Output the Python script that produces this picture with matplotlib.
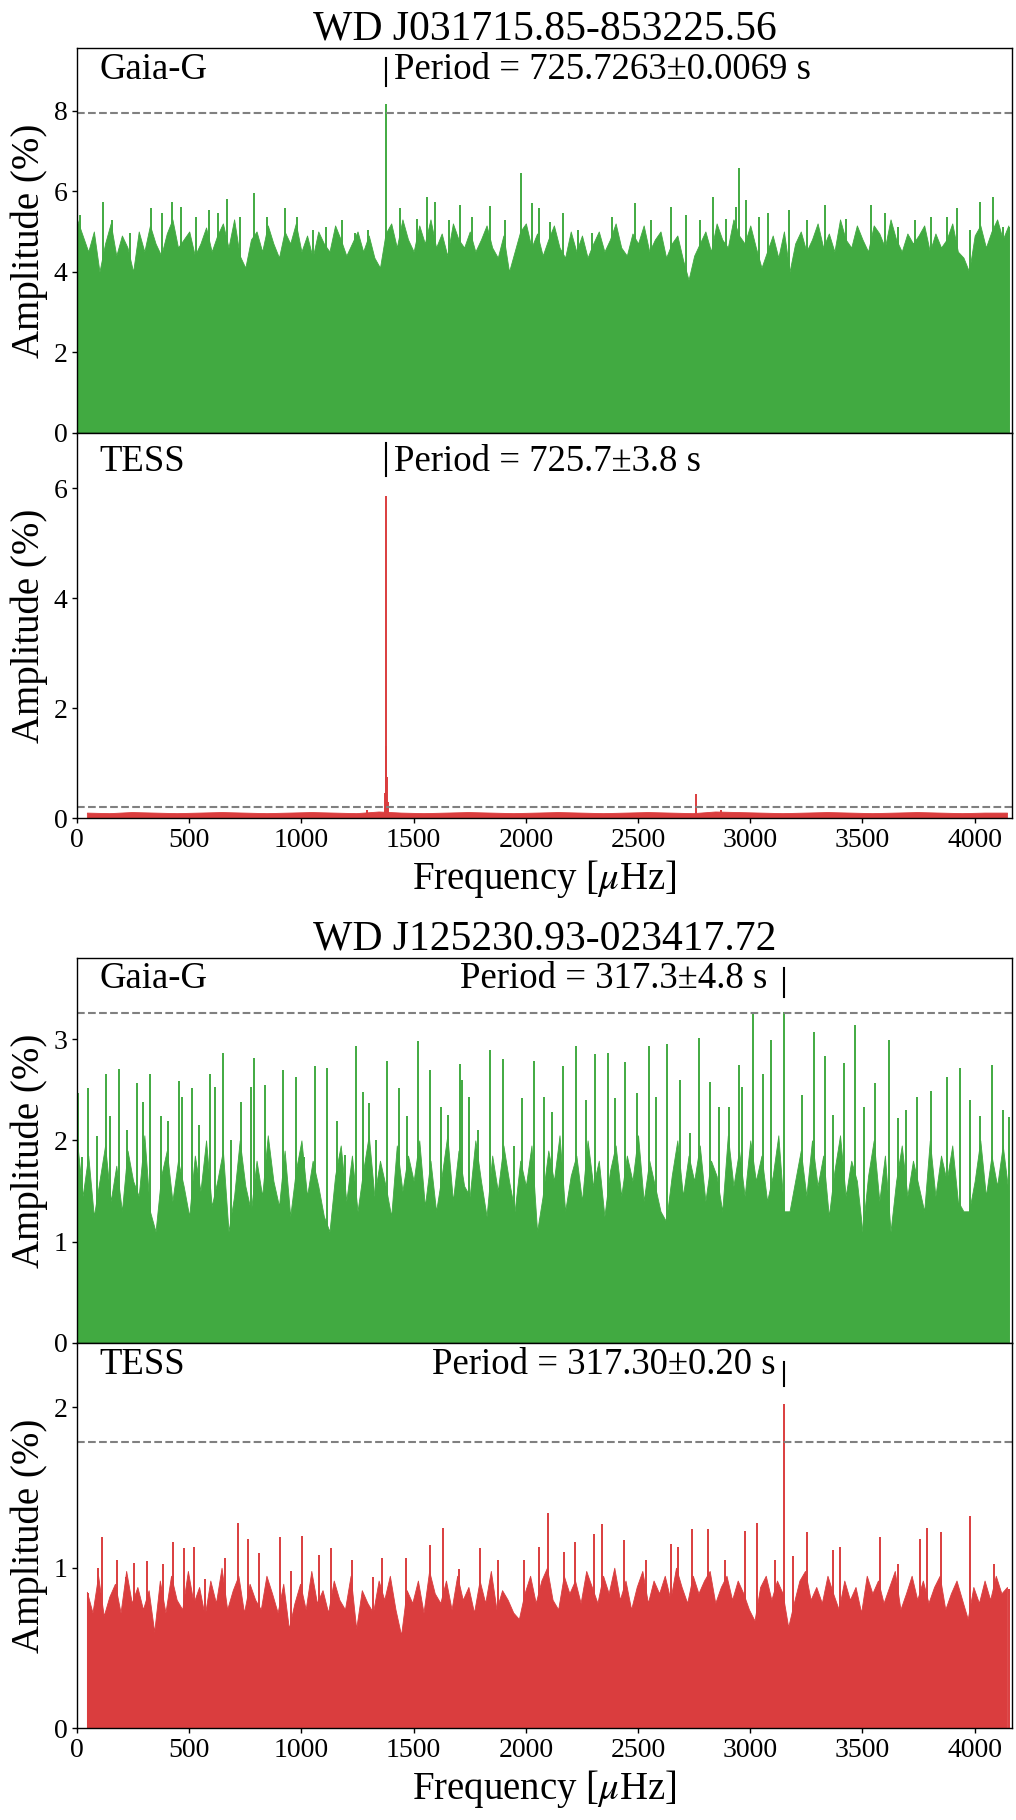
import matplotlib
matplotlib.use("Agg")
import matplotlib.pyplot as plt
import numpy as np

plt.rcParams["font.family"] = ["Liberation Serif", "DejaVu Serif"]
plt.rcParams["mathtext.fontset"] = "stix"

GREEN = "#41aa41"
RED = "#da3d3e"

# ---- WD J031715.85-853225.56 ----
star1_name = "WD J031715.85-853225.56"

# Gaia-G: ragged top of the dense noise, every 25 uHz from 0
gaia1_edge_start, gaia1_edge_step = 0, 25
gaia1_edge = [5.3, 4.9, 4.5, 5.0, 4.0, 4.7, 5.2, 4.4, 4.9, 4.6,
              4.0, 5.0, 4.5, 5.15, 4.7, 4.4, 4.95, 5.3, 4.6, 4.8,
              5.0, 4.4, 4.7, 5.1, 4.5, 4.9, 5.2, 4.6, 5.3, 4.4,
              4.1, 4.8, 5.0, 4.5, 5.15, 4.7, 4.35, 5.0, 4.7, 5.2,
              4.5, 4.9, 4.35, 5.0, 4.7, 4.5, 5.15, 4.8, 4.4, 4.7,
              5.0, 4.5, 4.9, 4.35, 4.1, 4.95, 5.2, 4.6, 5.3, 4.8,
              4.5, 5.15, 4.7, 5.3, 4.6, 4.95, 4.4, 5.2, 4.8, 4.6,
              5.0, 4.5, 4.8, 5.15, 4.6, 4.35, 4.9, 4.0, 4.5, 5.0,
              5.2, 4.6, 4.95, 4.4, 4.8, 5.15, 4.6, 4.35, 5.0, 4.5,
              4.9, 4.35, 4.7, 5.0, 4.5, 4.8, 5.2, 4.6, 4.4, 4.95,
              4.7, 5.15, 4.5, 4.8, 5.0, 4.35, 4.7, 4.9, 4.3, 3.8,
              4.4, 4.7, 5.0, 4.5, 5.2, 4.8, 4.6, 5.3, 4.9, 4.7,
              5.15, 4.6, 4.1, 4.5, 4.9, 4.35, 5.0, 4.0, 4.7, 5.0,
              4.5, 4.8, 5.2, 4.6, 4.95, 4.5, 5.3, 4.8, 4.6, 5.15,
              4.8, 4.5, 5.15, 4.95, 4.6, 5.3, 4.8, 4.5, 4.95, 4.7,
              4.9, 5.15, 4.5, 4.95, 4.6, 4.8, 5.2, 4.5, 4.35, 4.0,
              4.9, 5.15, 4.6, 5.0, 5.3, 4.8, 5.15]
gaia1_spike_freq = [12, 116, 157, 238, 331, 377, 423, 464, 528, 586,
                    629, 667, 725, 789, 847, 928, 980, 1050, 1108, 1180,
                    1238, 1296, 1378, 1441, 1514, 1560, 1595, 1659, 1708, 1758,
                    1839, 1905, 1978, 2027, 2059, 2108, 2166, 2233, 2297, 2384,
                    2486, 2558, 2645, 2712, 2776, 2834, 2892, 2935, 2952, 2979,
                    3037, 3080, 3173, 3254, 3335, 3428, 3538, 3602, 3660, 3733,
                    3805, 3878, 3921, 3979, 4023, 4081, 4124, 4153]
gaia1_spike_amp = [5.4, 5.74, 5.28, 4.95, 5.57, 5.45, 5.74, 5.6, 5.37, 5.53,
                   5.45, 5.8, 5.37, 5.96, 5.37, 5.57, 5.37, 5.03, 5.12, 5.28,
                   4.95, 5.03, 8.15, 5.57, 5.32, 5.85, 5.74, 5.28, 5.66, 5.37,
                   5.63, 5.28, 6.44, 5.71, 5.57, 5.24, 5.45, 5.03, 4.95, 5.37,
                   5.7, 5.28, 5.61, 5.4, 5.28, 5.85, 5.32, 5.61, 6.57, 5.78,
                   5.37, 5.45, 5.53, 5.28, 5.66, 5.32, 5.66, 5.45, 5.12, 5.28,
                   5.37, 5.37, 5.57, 5.03, 5.74, 5.85, 5.12, 5.12]

# TESS: noise edge every 100 uHz from 44
tess1_edge_start, tess1_edge_step = 44, 100
tess1_edge = [0.10, 0.09, 0.11, 0.10, 0.09, 0.10, 0.11, 0.10, 0.09, 0.10,
              0.11, 0.10, 0.09, 0.12, 0.10, 0.09, 0.10, 0.11, 0.10, 0.09,
              0.10, 0.11, 0.10, 0.09, 0.10, 0.11, 0.10, 0.09, 0.12, 0.11,
              0.10, 0.09, 0.10, 0.11, 0.10, 0.09, 0.10, 0.11, 0.10, 0.09,
              0.10, 0.10]
tess1_spike_freq = [1290, 1373, 1376, 1378, 1381, 1385, 2756, 2870]
tess1_spike_amp = [0.14, 0.45, 1.31, 5.85, 0.75, 0.30, 0.44, 0.14]

# ---- WD J125230.93-023417.72 ----
star2_name = "WD J125230.93-023417.72"

gaia2_edge_start, gaia2_edge_step = 0, 25
gaia2_edge = [2.0, 1.45, 1.85, 1.25, 1.6, 1.95, 1.4, 1.75, 1.3, 1.9,
              1.6, 1.45, 2.05, 1.3, 1.1, 1.65, 1.9, 1.4, 1.8, 1.55,
              1.25, 1.85, 1.5, 2.0, 1.35, 1.6, 1.9, 1.1, 1.45, 2.0,
              1.55, 1.3, 1.8, 1.45, 2.05, 1.6, 1.35, 1.9, 1.25, 1.7,
              2.0, 1.45, 1.8, 1.55, 1.25, 1.1, 1.65, 1.95, 1.4, 1.85,
              1.3, 1.7, 2.05, 1.45, 1.8, 1.55, 1.25, 1.95, 1.5, 1.85,
              1.6, 2.0, 1.35, 1.8, 1.3, 1.65, 2.05, 1.4, 1.9, 1.55,
              1.45, 2.0, 1.6, 1.25, 1.85, 1.5, 1.95, 1.6, 1.3, 1.8,
              1.55, 1.95, 1.1, 1.45, 1.9, 1.6, 2.05, 1.3, 1.65, 1.85,
              1.4, 2.0, 1.55, 1.8, 1.25, 1.7, 1.95, 1.45, 1.85, 1.6,
              2.05, 1.4, 1.8, 1.55, 1.3, 1.2, 1.65, 2.0, 1.45, 1.85,
              1.6, 1.95, 1.4, 1.8, 1.65, 1.3, 2.05, 1.55, 1.9, 1.45,
              2.0, 1.6, 1.85, 1.4, 1.65, 2.05, 1.3, 1.3, 1.6, 1.9,
              1.45, 2.0, 1.55, 1.85, 1.25, 1.7, 2.05, 1.45, 1.8, 1.6,
              1.1, 1.65, 2.0, 1.4, 1.85, 1.1, 1.6, 1.95, 1.45, 1.8,
              1.55, 1.3, 2.0, 1.45, 1.85, 1.6, 1.95, 1.4, 1.3, 1.3,
              1.6, 2.0, 1.45, 1.85, 1.55, 1.95, 1.5]
gaia2_spike_freq = [6, 20, 49, 87, 128, 145, 186, 223, 267, 296,
                    325, 374, 406, 453, 470, 513, 542, 592, 615, 650,
                    687, 731, 774, 789, 838, 919, 977, 1012, 1059, 1114,
                    1160, 1195, 1241, 1276, 1299, 1334, 1380, 1433, 1470, 1520,
                    1572, 1624, 1653, 1705, 1717, 1746, 1789, 1842, 1900, 1949,
                    1984, 2036, 2080, 2117, 2166, 2224, 2268, 2306, 2364, 2398,
                    2442, 2494, 2549, 2581, 2631, 2689, 2732, 2770, 2819, 2862,
                    2906, 2952, 2964, 3013, 3057, 3092, 3152, 3231, 3283, 3335,
                    3370, 3416, 3468, 3509, 3558, 3616, 3660, 3695, 3741, 3805,
                    3878, 3936, 3979, 4023, 4075, 4124, 4153]
gaia2_spike_amp = [2.47, 1.84, 2.52, 2.04, 2.66, 2.24, 2.70, 2.10, 2.57, 2.38,
                   2.66, 2.24, 2.19, 2.59, 2.43, 2.52, 2.15, 2.66, 2.53, 2.86,
                   2.00, 2.38, 2.53, 2.81, 2.55, 2.69, 2.63, 1.84, 2.73, 2.71,
                   2.19, 1.86, 2.93, 2.48, 2.37, 2.00, 2.78, 2.52, 2.24, 2.98,
                   2.69, 2.33, 2.25, 2.75, 2.60, 2.43, 2.10, 2.89, 2.80, 1.94,
                   2.42, 2.78, 2.43, 2.28, 2.73, 2.93, 2.40, 2.85, 2.86, 2.42,
                   2.77, 2.47, 2.93, 2.43, 2.95, 2.60, 2.07, 3.01, 2.58, 2.33,
                   2.33, 2.74, 2.53, 3.25, 2.66, 2.99, 3.27, 2.45, 3.07, 2.83,
                   2.25, 2.76, 3.14, 2.33, 2.57, 2.99, 2.22, 2.30, 2.43, 2.49,
                   2.63, 2.71, 2.40, 2.24, 2.74, 2.30, 2.23]

# TESS: ragged top every 25 uHz from 44
tess2_edge_start, tess2_edge_step = 44, 25
tess2_edge = [0.85, 0.72, 0.95, 0.70, 0.82, 0.90, 0.72, 0.98, 0.78, 0.88,
              0.74, 0.86, 0.60, 0.92, 0.72, 0.95, 0.80, 0.74, 0.98, 0.78,
              0.88, 0.70, 0.92, 0.78, 1.00, 0.74, 0.86, 0.95, 0.72, 0.90,
              0.80, 0.74, 0.95, 0.84, 0.72, 0.90, 0.62, 0.78, 0.90, 0.74,
              0.98, 0.78, 0.86, 0.72, 0.92, 0.80, 0.74, 0.95, 0.62, 0.86,
              0.78, 0.72, 0.92, 0.80, 0.95, 0.74, 0.58, 0.86, 0.78, 0.92,
              0.72, 0.98, 0.84, 0.78, 0.92, 0.74, 0.95, 0.80, 0.88, 0.72,
              0.92, 0.78, 0.98, 0.74, 0.86, 0.80, 0.72, 0.68, 0.84, 0.95,
              0.78, 0.92, 1.00, 0.80, 0.74, 0.95, 0.84, 0.92, 0.78, 0.98,
              0.88, 0.78, 0.95, 0.84, 1.00, 0.80, 0.92, 0.74, 0.88, 0.98,
              0.78, 0.92, 0.84, 0.95, 0.80, 1.00, 0.88, 0.78, 0.95, 0.84,
              0.92, 0.98, 0.78, 0.88, 0.95, 0.80, 0.92, 0.84, 0.74, 0.67,
              0.88, 0.95, 0.80, 0.92, 0.84, 0.63, 0.78, 0.92, 0.98, 0.80,
              0.88, 0.78, 0.95, 0.84, 0.74, 0.92, 0.80, 0.88, 0.72, 0.95,
              0.84, 0.92, 0.78, 0.88, 0.98, 0.74, 0.84, 0.95, 0.80, 0.92,
              0.78, 0.88, 0.95, 0.74, 0.84, 0.92, 0.80, 0.68, 0.88, 0.78,
              0.92, 0.80, 0.95, 0.84, 0.88]
tess2_spike_freq = [49, 93, 113, 180, 218, 252, 310, 383, 426, 476,
                    522, 571, 658, 719, 760, 812, 905, 954, 1001, 1079,
                    1131, 1224, 1317, 1360, 1467, 1572, 1630, 1702, 1795, 1876,
                    1992, 2059, 2100, 2169, 2221, 2303, 2341, 2436, 2535, 2645,
                    2680, 2741, 2810, 2886, 2978, 3028, 3109, 3152, 3190, 3254,
                    3370, 3399, 3579, 3660, 3756, 3788, 3849, 3979, 4087, 4153]
tess2_spike_amp = [0.84, 1.00, 1.19, 1.05, 0.94, 1.03, 1.04, 1.02, 1.16, 1.12,
                   1.13, 0.93, 1.06, 1.28, 1.18, 1.09, 1.19, 0.98, 1.20, 1.08,
                   1.12, 1.05, 0.94, 1.06, 1.06, 1.14, 1.25, 0.99, 1.12, 1.05,
                   1.05, 1.13, 1.34, 1.10, 1.16, 1.21, 1.27, 1.17, 1.05, 1.15,
                   1.13, 1.24, 1.24, 1.05, 1.23, 1.28, 1.05, 2.02, 1.07, 1.22,
                   1.11, 1.13, 1.19, 1.02, 1.18, 1.25, 1.22, 1.32, 1.02, 0.87]

# labels, thresholds and limits per panel
periods = [725.7263, 725.7, 317.3, 317.30]
period_texts = ["Period = 725.7263\u00b10.0069 s", "Period = 725.7\u00b13.8 s",
                "Period = 317.3\u00b14.8 s", "Period = 317.30\u00b10.20 s"]
thresholds = [7.93, 0.205, 3.26, 1.786]
y_tops = [9.55, 7.0, 3.80, 2.40]
y_ticks = [[0, 2, 4, 6, 8], [0, 2, 4, 6], [0, 1, 2, 3], [0, 1, 2]]

FREQ_MAX = 4166


def draw_panel(ax, edge_start, edge_step, edge, spike_freq, spike_amp, color,
               name, period, text, thr, ytop, yticks, text_y, bar_y, text_dx):
    freq = edge_start + edge_step * np.arange(len(edge))
    ax.fill_between(freq, 0, edge, color=color, lw=0.6, edgecolor=color)
    ax.vlines(spike_freq, 0, spike_amp, color=color, lw=1.4)
    ax.axhline(thr, color="gray", ls="--", lw=1.5)
    ax.set_xlim(0, FREQ_MAX)
    ax.set_ylim(0, ytop)
    ax.set_yticks(yticks)
    ax.set_ylabel("Amplitude (%)", fontsize=28)
    ax.tick_params(labelsize=20, width=1.0)
    for s in ax.spines.values():
        s.set_linewidth(1.0)

    f0 = 1e6 / period
    ax.axvline(f0, ymin=bar_y[0], ymax=bar_y[1], color="black", lw=1.5)
    ax.text(0.024, text_y, name, transform=ax.transAxes, fontsize=26.5,
            va="baseline", ha="left")
    ax.annotate(text, xy=(f0, text_y), xycoords=("data", "axes fraction"),
                xytext=(text_dx, 0), textcoords="offset points",
                fontsize=26.5, va="baseline",
                ha="left" if text_dx > 0 else "right")


fig = plt.figure(figsize=(10.16, 18.2), dpi=100)
left, width, h = 0.0758, 0.9202, 0.2115
ax1 = fig.add_axes([left, 0.7621, width, h])
ax2 = fig.add_axes([left, 0.5505, width, h])
ax3 = fig.add_axes([left, 0.2621, width, h])
ax4 = fig.add_axes([left, 0.0505, width, h])

draw_panel(ax1, gaia1_edge_start, gaia1_edge_step, gaia1_edge,
           gaia1_spike_freq, gaia1_spike_amp, GREEN, "Gaia-G",
           periods[0], period_texts[0], thresholds[0], y_tops[0], y_ticks[0],
           0.92, (0.901, 0.974), 5.5)
draw_panel(ax2, tess1_edge_start, tess1_edge_step, tess1_edge,
           tess1_spike_freq, tess1_spike_amp, RED, "TESS",
           periods[1], period_texts[1], thresholds[1], y_tops[1], y_ticks[1],
           0.902, (0.888, 0.975), 5.5)
draw_panel(ax3, gaia2_edge_start, gaia2_edge_step, gaia2_edge,
           gaia2_spike_freq, gaia2_spike_amp, GREEN, "Gaia-G",
           periods[2], period_texts[2], thresholds[2], y_tops[2], y_ticks[2],
           0.921, (0.90, 0.974), -12)
draw_panel(ax4, tess2_edge_start, tess2_edge_step, tess2_edge,
           tess2_spike_freq, tess2_spike_amp, RED, "TESS",
           periods[3], period_texts[3], thresholds[3], y_tops[3], y_ticks[3],
           0.919, (0.888, 0.951), -6)

for ax in (ax1, ax3):
    ax.tick_params(bottom=False, labelbottom=False)
    ax.set_title(star1_name if ax is ax1 else star2_name, fontsize=30)
for ax in (ax2, ax4):
    ax.set_xticks(range(0, 4001, 500))
    ax.set_xlabel(r"Frequency [$\mu$Hz]", fontsize=28)

fig.savefig("out.png", dpi=100)
